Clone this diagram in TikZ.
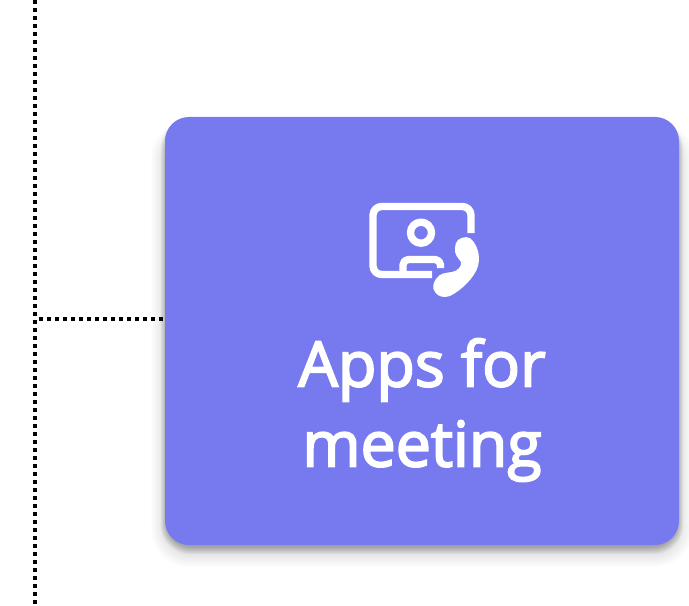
\documentclass[tikz,border=0pt]{standalone}
\usepackage{fontspec}
\setmainfont{Open Sans}[FakeBold=3]
\definecolor{cardblue}{HTML}{767AEE}
\tikzset{
  dotline/.style={draw=black,line width=3pt,dash pattern=on 3pt off 3pt},
  cardbox/.style={fill=cardblue,rounded corners=18pt,minimum width=385.5pt,minimum height=321pt,inner sep=0pt},
  icon/.style={draw=white,line width=5.5pt,line join=round},
  cardtext/.style={text=white,font=\fontsize{47}{60}\selectfont,align=center,inner sep=0pt}
}
\begin{document}
\begin{tikzpicture}[x=0.75pt,y=-0.75pt]
\useasboundingbox (0,0) rectangle (689,606);
\fill[white] (0,0) rectangle (689,606);
% connectors first, so the shadow falls over their ends
\coordinate (top) at (35,0);
\coordinate (bottom) at (35,606);
\coordinate (junction) at (39,319);
\coordinate (cardleft) at (165,319);
\draw[dotline] (top) -- (bottom);
\draw[dotline] (junction) -- (cardleft);
% shadow: wide faint stack
\foreach \g in {1,...,20}{
  \pgfmathsetmacro{\sl}{171-\g}
  \pgfmathsetmacro{\st}{140-\g}
  \pgfmathsetmacro{\sr}{673+\g}
  \pgfmathsetmacro{\sb}{547+\g}
  \pgfmathsetmacro{\rr}{18+\g*0.5}
  \fill[black,opacity=0.006,rounded corners=\rr pt] (\sl,\st) rectangle (\sr,\sb);
}
% shadow: tight stack
\foreach \g in {1,...,8}{
  \pgfmathsetmacro{\sl}{167-\g*0.8}
  \pgfmathsetmacro{\st}{126-\g*0.8}
  \pgfmathsetmacro{\sr}{677+\g*0.8}
  \pgfmathsetmacro{\sb}{546+\g}
  \pgfmathsetmacro{\rr}{18+\g*0.5}
  \fill[black,opacity=0.032,rounded corners=\rr pt] (\sl,\st) rectangle (\sr,\sb);
}
\node[cardbox] (card) at (422,331) {};
\node[cardtext] (label) at (422,410) {Apps for\\meeting};
% icon: screen
\draw[icon,rounded corners=6.5pt] (471,233) -- (471,206.5) -- (373,206.5) -- (373,274.5) -- (432,274.5);
\draw[icon] (421,232.7) circle[radius=7.9pt];
\draw[icon,rounded corners=4pt] (403,274) -- (403,259.5) -- (440.5,259.5) -- (440.5,268);
% icon: handset
\fill[white] (458,240) .. controls (463,236) and (470,236) .. (473,241)
  .. controls (479,249) and (480,258) .. (478,266)
  .. controls (475,277) and (462,290) .. (450,296)
  .. controls (444,298) and (438,297) .. (435,292)
  .. controls (432,288) and (433,283) .. (436,279)
  .. controls (440,273) and (445,273) .. (452,272)
  .. controls (458,271) and (462,266) .. (461,262)
  .. controls (458,258) and (454,254) .. (455,248)
  .. controls (455,245) and (456,242) .. (458,240) -- cycle;
\end{tikzpicture}
\end{document}
